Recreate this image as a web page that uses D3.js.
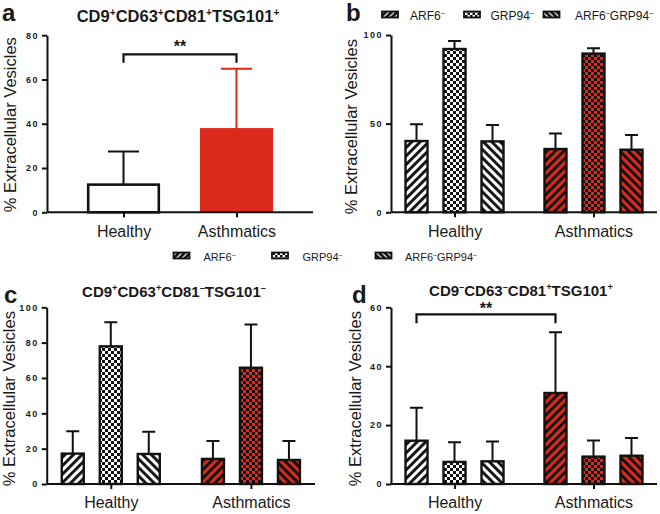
<!DOCTYPE html>
<html><head><meta charset="utf-8">
<script src="https://cdn.jsdelivr.net/npm/d3@7"></script>
<style>
body{margin:0;background:#fff}
svg{display:block}
text{font-family:'Liberation Sans',Arial,sans-serif;fill:#1a1a1a}
</style>
</head><body>
<svg id="chart" width="660" height="514"></svg>
<script>
// ---------------- DATA ----------------
const groups = ["Healthy", "Asthmatics"];
const series = ["ARF6", "GRP94", "ARF6GRP94"];

// Panel a: CD9+CD63+CD81+TSG101+
const aMean = [12.5, 37.6];
const aErrTop = [27.5, 64.8];
const aTicks = [0, 20, 40, 60, 80];

// Panel b
const bHealthyMean = [40.2, 92.1, 40.0];
const bHealthyErrTop = [49.6, 96.6, 49.2];
const bAsthmaMean = [35.7, 89.5, 35.3];
const bAsthmaErrTop = [44.5, 92.5, 43.6];
const bTicks = [0, 50, 100];

// Panel c: CD9+CD63+CD81-TSG101-
const cHealthyMean = [17.2, 77.9, 17.0];
const cHealthyErrTop = [29.8, 91.5, 29.6];
const cAsthmaMean = [14.2, 65.8, 13.6];
const cAsthmaErrTop = [24.3, 90.2, 24.3];
const cTicks = [0, 20, 40, 60, 80, 100];

// Panel d: CD9-CD63-CD81+TSG101+
const dHealthyMean = [14.7, 7.5, 7.7];
const dHealthyErrTop = [25.9, 14.2, 14.4];
const dAsthmaMean = [30.9, 9.3, 9.6];
const dAsthmaErrTop = [51.5, 14.8, 15.6];
const dTicks = [0, 20, 40, 60];

// ---------------- STYLE ----------------
const RED = "#db2a1c";
const svg = d3.select("#chart");
const defs = svg.append("defs");

function stripePattern(id, angle, bg) {
  const p = defs.append("pattern").attr("id", id)
    .attr("patternUnits", "userSpaceOnUse")
    .attr("width", 6).attr("height", 6)
    .attr("patternTransform", `rotate(${angle})`);
  p.append("rect").attr("width", 6).attr("height", 6).attr("fill", bg);
  p.append("rect").attr("x", 0).attr("width", 2.9).attr("height", 6).attr("fill", "#111");
}
function checkerPattern(id, bg, s) {
  const p = defs.append("pattern").attr("id", id)
    .attr("patternUnits", "userSpaceOnUse")
    .attr("width", 2 * s).attr("height", 2 * s);
  p.append("rect").attr("width", 2 * s).attr("height", 2 * s).attr("fill", bg);
  p.append("rect").attr("width", s).attr("height", s).attr("fill", "#111");
  p.append("rect").attr("x", s).attr("y", s).attr("width", s).attr("height", s).attr("fill", "#111");
}
stripePattern("upW", 45, "#fff");
stripePattern("dnW", -45, "#fff");
checkerPattern("chW", "#fff", 3);
stripePattern("upR", 45, RED);
stripePattern("dnR", -45, RED);
checkerPattern("chR", RED, 3);
function legStripe(id, angle) {
  const p = defs.append("pattern").attr("id", id)
    .attr("patternUnits", "userSpaceOnUse")
    .attr("width", 4).attr("height", 4)
    .attr("patternTransform", `rotate(${angle})`);
  p.append("rect").attr("width", 4).attr("height", 4).attr("fill", "#fff");
  p.append("rect").attr("width", 2.8).attr("height", 4).attr("fill", "#111");
}
legStripe("lUp", 45);
legStripe("lDn", -45);
checkerPattern("lCh", "#fff", 2.5);
const fills = {
  Healthy: { ARF6: "url(#upW)", GRP94: "url(#chW)", ARF6GRP94: "url(#dnW)" },
  Asthmatics: { ARF6: "url(#upR)", GRP94: "url(#chR)", ARF6GRP94: "url(#dnR)" }
};

// ---------------- HELPERS ----------------
function yAxis(g, y, ticks, x0) {
  const ax = g.append("g").attr("transform", `translate(${x0},0)`)
    .call(d3.axisLeft(y).tickValues(ticks).tickSize(5).tickSizeOuter(0).tickPadding(3).tickFormat(d3.format("d")));
  ax.attr("font-family", null).attr("font-size", null);
  ax.select(".domain").attr("stroke", "#111").attr("stroke-width", 2);
  ax.selectAll(".tick line").attr("stroke", "#111").attr("stroke-width", 2);
  ax.selectAll(".tick text").attr("fill", "#111")
    .style("font-size", "9px").style("font-weight", "bold").style("letter-spacing", "1.5px");
}
function xAxis(g, x, yPos, x0, x1) {
  const ax = g.append("g").attr("transform", `translate(0,${yPos})`)
    .call(d3.axisBottom(x).tickSize(5).tickSizeOuter(0).tickPadding(8));
  ax.attr("font-family", null).attr("font-size", null);
  ax.select(".domain").attr("d", `M${x0},0H${x1}`).attr("stroke", "#111").attr("stroke-width", 2);
  ax.selectAll(".tick line").attr("stroke", "#111").attr("stroke-width", 2);
  ax.selectAll(".tick text").attr("fill", "#1a1a1a").style("font-size", "16px");
}
function yLabel(g, xPos, yMid) {
  g.append("text").attr("transform", `translate(${xPos},${yMid}) rotate(-90)`)
    .attr("text-anchor", "middle").style("font-size", "16.5px")
    .text("% Extracellular Vesicles");
}
function supText(g, x, y, parts, size, bold, anchor) {
  const t = g.append("text").attr("x", x).attr("y", y)
    .attr("text-anchor", anchor || "middle")
    .style("font-size", size + "px").style("font-weight", bold ? "bold" : "normal");
  let shifted = false;
  const rise = size * 0.38;
  parts.forEach(p => {
    const ts = t.append("tspan").text(p.t);
    if (p.sup) {
      ts.attr("dy", shifted ? 0 : -rise).style("font-size", (size * 0.62) + "px");
      shifted = true;
    } else {
      if (shifted) ts.attr("dy", rise);
      shifted = false;
    }
  });
  return t;
}
function panelLetter(x, y, s) {
  svg.append("text").attr("x", x).attr("y", y).style("font-size", "24px")
    .style("font-weight", "bold").text(s);
}
function bracket(g, xa, xb, yTop, yEnd, yText) {
  g.append("path").attr("d", `M${xa},${yEnd}V${yTop}H${xb}V${yEnd}`)
    .attr("fill", "none").attr("stroke", "#111").attr("stroke-width", 2.2);
  g.append("text").attr("x", (xa + xb) / 2).attr("y", yText).attr("text-anchor", "middle")
    .style("font-size", "16px").style("font-weight", "bold").text("**");
}

function groupedPanel(o) {
  const g = svg.append("g");
  const y = d3.scaleLinear().domain([0, o.yMax]).range([o.yBottom, o.yTop]);
  const x = d3.scalePoint().domain(groups).range([o.x0, o.x1]).padding(0.457);
  const xs = d3.scalePoint().domain(series).range([-38, 38]);
  const bw = 24;
  const data = [];
  groups.forEach((grp, gi) => series.forEach((s, si) => {
    data.push({ grp, s, v: o.means[gi][si], e: o.errs[gi][si] });
  }));
  const cx = d => x(d.grp) + xs(d.s);
  g.selectAll(".err").data(data).join("path")
    .attr("d", d => `M${cx(d)},${y(d.v)}V${y(d.e)}M${cx(d) - 6.5},${y(d.e)}H${cx(d) + 6.5}`)
    .attr("stroke", "#111").attr("stroke-width", 2).attr("fill", "none");
  g.selectAll(".bar").data(data).join("rect")
    .attr("x", d => cx(d) - bw / 2 + 1).attr("width", bw - 2)
    .attr("y", d => y(d.v)).attr("height", d => y(0) - y(d.v))
    .attr("fill", d => fills[d.grp][d.s]).attr("stroke", "#111").attr("stroke-width", 2.4);
  yAxis(g, y, o.ticks, o.x0);
  xAxis(g, x, o.yBottom, o.x0, o.x1);
  yLabel(g, o.labelX, (o.yBottom + o.yTop) / 2 + 3);
  return { g, x, xs, y };
}

// ---------------- PANEL A ----------------
(function () {
  const g = svg.append("g");
  const x0 = 47, x1 = 313, yB = 212.3, yT = 35.2;
  const y = d3.scaleLinear().domain([0, 80]).range([yB, yT]);
  const x = d3.scalePoint().domain(groups).range([x0, x1]).padding(0.677);
  const bw = 73;
  const data = groups.map((grp, i) => ({ grp, v: aMean[i], e: aErrTop[i] }));
  g.selectAll(".err").data(data).join("path")
    .attr("d", d => `M${x(d.grp)},${y(d.v)}V${y(d.e)}M${x(d.grp) - 15.5},${y(d.e)}H${x(d.grp) + 15.5}`)
    .attr("stroke", d => d.grp === "Healthy" ? "#111" : RED).attr("stroke-width", 2).attr("fill", "none");
  g.selectAll(".bar").data(data).join("rect")
    .attr("x", d => x(d.grp) - bw / 2 + (d.grp === "Healthy" ? 1.2 : 0))
    .attr("width", d => d.grp === "Healthy" ? bw - 2.4 : bw)
    .attr("y", d => y(d.v) + (d.grp === "Healthy" ? 0 : -1))
    .attr("height", d => y(0) - y(d.v) + (d.grp === "Healthy" ? 0 : 1))
    .attr("fill", d => d.grp === "Healthy" ? "#fff" : RED)
    .attr("stroke", d => d.grp === "Healthy" ? "#111" : "none").attr("stroke-width", 2.6);
  yAxis(g, y, aTicks, x0);
  xAxis(g, x, yB, x0, x1);
  yLabel(g, 16, (yB + yT) / 2 + 1);
  bracket(g, x(groups[0]), x(groups[1]), y(71.3), y(67.5), 52);
  supText(svg, 178, 22, [{t:"CD9"},{t:"+",sup:1},{t:"CD63"},{t:"+",sup:1},{t:"CD81"},{t:"+",sup:1},{t:"TSG101"},{t:"+",sup:1}], 16.5, true);
  panelLetter(2, 21, "a");
})();

// ---------------- PANEL B ----------------
groupedPanel({ x0: 391, x1: 657, yBottom: 212.3, yTop: 35, yMax: 100, ticks: bTicks,
  means: [bHealthyMean, bAsthmaMean], errs: [bHealthyErrTop, bAsthmaErrTop], labelX: 357 });
panelLetter(346, 21, "b");

// legends
function legend(items, size) {
  items.forEach(it => {
    svg.append("rect").attr("x", it.px).attr("y", it.py).attr("width", 16).attr("height", 6)
      .attr("fill", it.fill).attr("stroke", "#111").attr("stroke-width", 1.8);
    supText(svg, it.tx, it.ty, it.parts, size, false, "start");
  });
}
const legArf = [{t:"ARF6"},{t:"\u2013",sup:1}];
const legGrp = [{t:"GRP94"},{t:"\u2013",sup:1}];
const legBoth = [{t:"ARF6"},{t:"\u2013",sup:1},{t:"GRP94"},{t:"\u2013",sup:1}];
legend([
  { px: 382, py: 11.5, fill: "url(#lUp)", tx: 410, ty: 20, parts: legArf },
  { px: 464, py: 11.5, fill: "url(#lCh)", tx: 490.5, ty: 20, parts: legGrp },
  { px: 543.5, py: 11.5, fill: "url(#lDn)", tx: 575, ty: 20, parts: legBoth }
], 12);
legend([
  { px: 173.5, py: 252.5, fill: "url(#lUp)", tx: 203.5, ty: 261, parts: legArf },
  { px: 272, py: 252.5, fill: "url(#lCh)", tx: 302.5, ty: 261, parts: legGrp },
  { px: 375.5, py: 252.5, fill: "url(#lDn)", tx: 405, ty: 261, parts: legBoth }
], 11);

// ---------------- PANEL C ----------------
groupedPanel({ x0: 46.7, x1: 315, yBottom: 484, yTop: 307.3, yMax: 100, ticks: cTicks,
  means: [cHealthyMean, cAsthmaMean], errs: [cHealthyErrTop, cAsthmaErrTop], labelX: 15 });
supText(svg, 174, 297, [{t:"CD9"},{t:"+",sup:1},{t:"CD63"},{t:"+",sup:1},{t:"CD81"},{t:"\u2013",sup:1},{t:"TSG101"},{t:"\u2013",sup:1}], 15, true);
panelLetter(4, 303, "c");

// ---------------- PANEL D ----------------
const pd = groupedPanel({ x0: 391, x1: 657, yBottom: 484, yTop: 307.3, yMax: 60, ticks: dTicks,
  means: [dHealthyMean, dAsthmaMean], errs: [dHealthyErrTop, dAsthmaErrTop], labelX: 361 });
bracket(pd.g, pd.x("Healthy") + pd.xs("ARF6"), pd.x("Asthmatics") + pd.xs("ARF6"), pd.y(57.6), pd.y(54.6), 314);
supText(svg, 521, 296, [{t:"CD9"},{t:"\u2013",sup:1},{t:"CD63"},{t:"\u2013",sup:1},{t:"CD81"},{t:"+",sup:1},{t:"TSG101"},{t:"+",sup:1}], 15, true);
panelLetter(352, 303, "d");
</script>
</body></html>
